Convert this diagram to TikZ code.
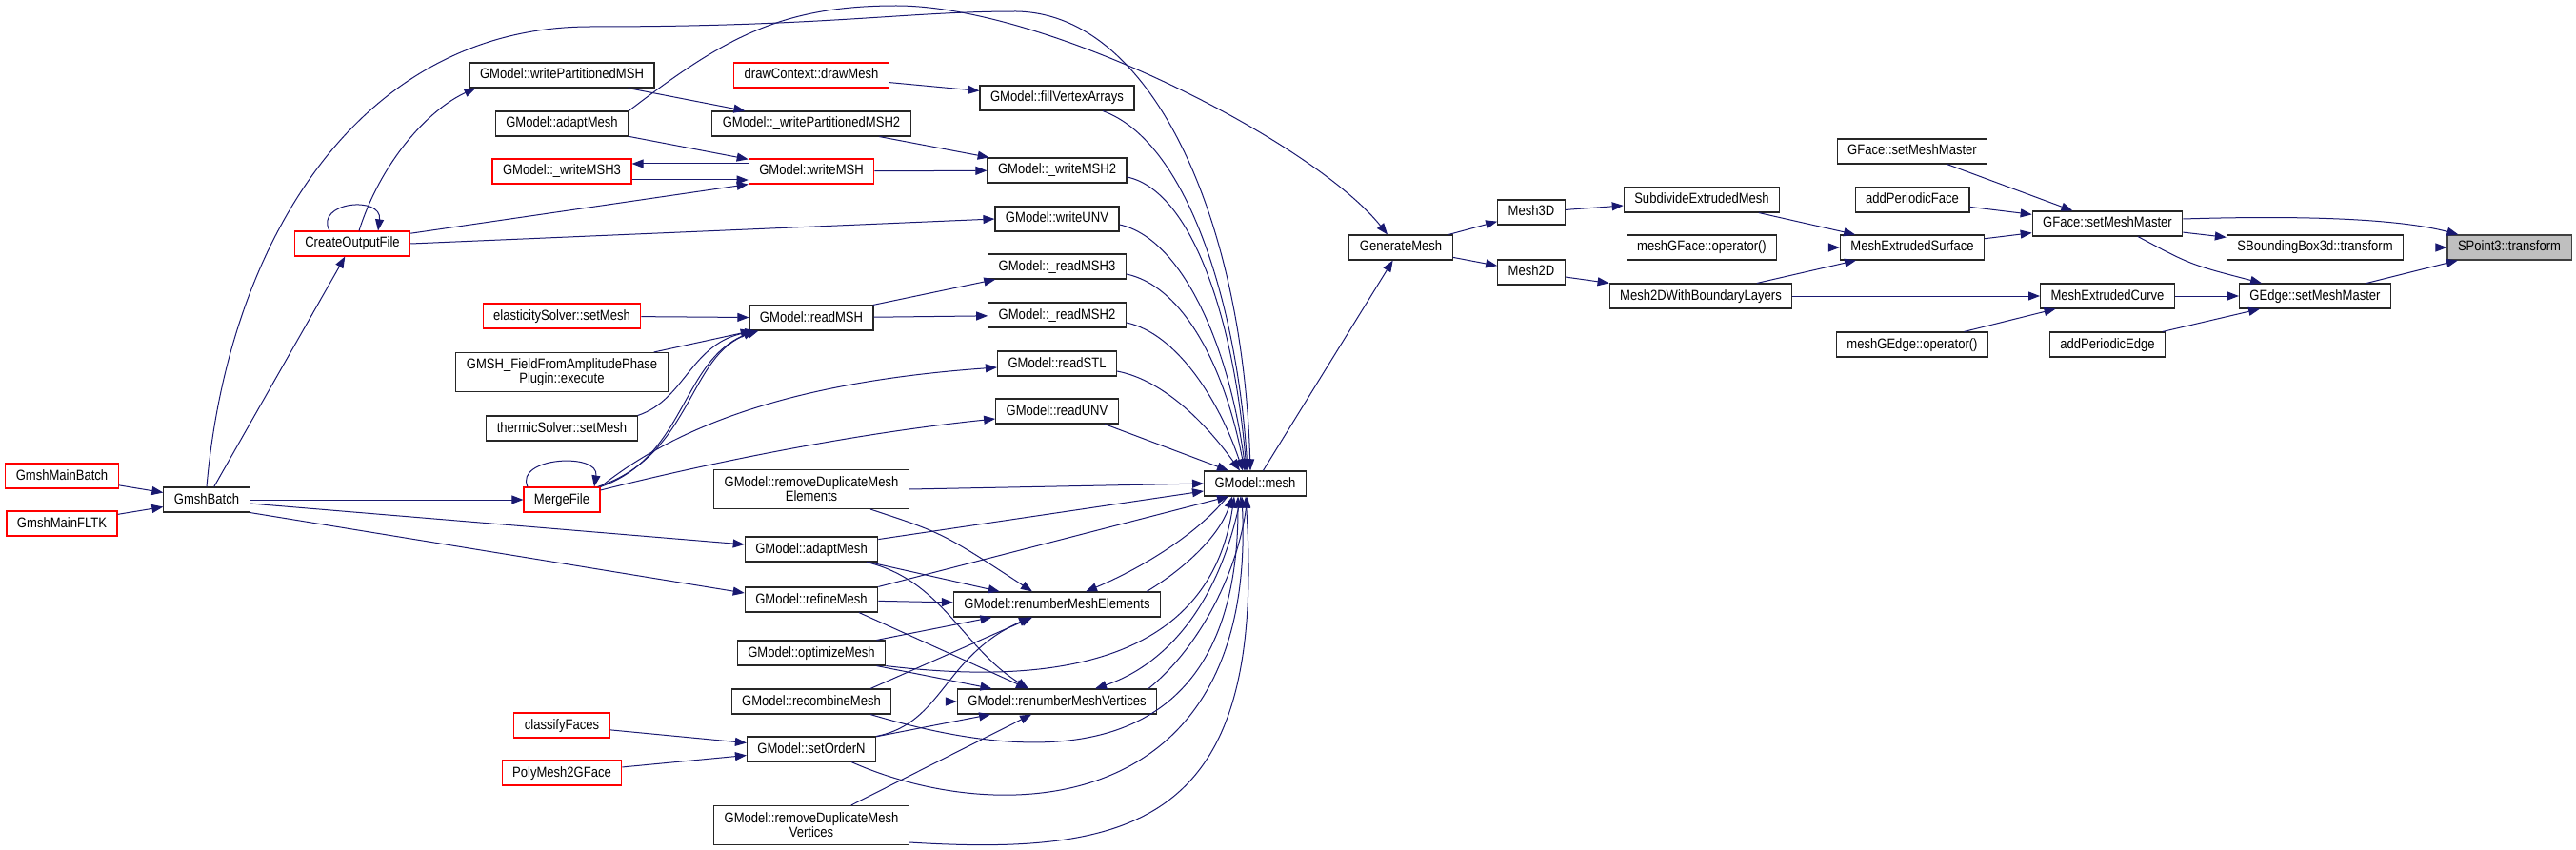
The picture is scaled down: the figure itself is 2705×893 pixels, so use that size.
\documentclass[tikz,border=0pt]{standalone}
\usepackage{fontspec}
\setmainfont{Liberation Sans}[FakeStretch=0.87]
\usepackage{tikz}
\usetikzlibrary{arrows.meta}
\definecolor{edgeBlue}{HTML}{191970}
\definecolor{boxRed}{HTML}{FF0000}
\definecolor{rootGray}{HTML}{BFBFBF}

\begin{document}
\begin{tikzpicture}[x=1pt, y=-1pt, font=\fontsize{15}{15}\selectfont,
  fn/.style={draw=black!85, line width=1.1pt, fill=white, inner xsep=11pt, inner ysep=0pt,
             minimum height=26pt, text height=10.8pt, text depth=2.8pt},
  fnred/.style={fn, draw=boxRed},
  fnroot/.style={fn, draw=black!75, fill=rootGray},
  fntwo/.style={fn, align=center, text height={}, text depth={}, minimum height=41pt},
  call/.style={draw=edgeBlue, line width=1pt, -{Triangle[length=12pt,width=9pt]}}]
\useasboundingbox (0,0) rectangle (2705,893);
% ---------- entry points ----------
\node[fnred] (gmb) at (65,500) {GmshMainBatch};
\node[fnred] (gmf) at (65,550) {GmshMainFLTK};
\node[fn] (gbatch) at (217,525) {GmshBatch};
\node[fnred] (cof) at (370,256) {CreateOutputFile};
% ---------- column 3 ----------
\node[fn] (wpmsh) at (590,79) {GModel::writePartitionedMSH};
\node[fn] (adapt1) at (590,130) {GModel::adaptMesh};
\node[fnred] (wmsh3) at (590,180) {GModel::\_writeMSH3};
\node[fnred] (elast) at (590,332) {elasticitySolver::setMesh};
\node[fntwo] (field) at (590,391) {GMSH\_FieldFromAmplitudePhase\\Plugin::execute};
\node[fn] (thermic) at (590,450) {thermicSolver::setMesh};
\node[fnred] (merge) at (590,525) {MergeFile};
\node[fnred] (classify) at (590,762) {classifyFaces};
\node[fnred] (poly) at (590,812) {PolyMesh2GFace};
% ---------- column 4 ----------
\node[fnred] (dcdm) at (852,79) {drawContext::drawMesh};
\node[fn] (wpmsh2) at (852,130) {GModel::\_writePartitionedMSH2};
\node[fnred] (wmsh) at (852,180) {GModel::writeMSH};
\node[fn] (rmsh) at (852,334) {GModel::readMSH};
\node[fntwo] (rdme) at (852,514) {GModel::removeDuplicateMesh\\Elements};
\node[fn] (adapt2) at (852,577) {GModel::adaptMesh};
\node[fn] (refine) at (852,630) {GModel::refineMesh};
\node[fn] (optim) at (852,686) {GModel::optimizeMesh};
\node[fn] (recomb) at (852,737) {GModel::recombineMesh};
\node[fn] (order) at (852,787) {GModel::setOrderN};
\node[fntwo] (rdmv) at (852,867) {GModel::removeDuplicateMesh\\Vertices};
% ---------- column 5 ----------
\node[fn] (fva) at (1110,103) {GModel::fillVertexArrays};
\node[fn] (wmsh2) at (1110,179) {GModel::\_writeMSH2};
\node[fn] (wunv) at (1110,230) {GModel::writeUNV};
\node[fn] (rmsh3) at (1110,280) {GModel::\_readMSH3};
\node[fn] (rmsh2) at (1110,331) {GModel::\_readMSH2};
\node[fn] (rstl) at (1110,382) {GModel::readSTL};
\node[fn] (runv) at (1110,432) {GModel::readUNV};
\node[fn] (rnme) at (1110,635) {GModel::renumberMeshElements};
\node[fn] (rnmv) at (1110,737) {GModel::renumberMeshVertices};
% ---------- right part ----------
\node[fn] (mesh) at (1318,508) {GModel::mesh};
\node[fn] (gen) at (1471,260) {GenerateMesh};
\node[fn] (m3d) at (1608,223) {Mesh3D};
\node[fn] (m2d) at (1608,286) {Mesh2D};
\node[fn] (sub) at (1787,210) {SubdivideExtrudedMesh};
\node[fn] (mgf) at (1787,260) {meshGFace::operator()};
\node[fn] (m2dbl) at (1786,311) {Mesh2DWithBoundaryLayers};
\node[fn] (gfsmm1) at (2008,159) {GFace::setMeshMaster};
\node[fn] (apf) at (2008,210) {addPeriodicFace};
\node[fn] (mes) at (2008,260) {MeshExtrudedSurface};
\node[fn] (mge) at (2008,362) {meshGEdge::operator()};
\node[fn] (gfsmm) at (2213,235) {GFace::setMeshMaster};
\node[fn] (mec) at (2213,311) {MeshExtrudedCurve};
\node[fn] (ape) at (2213,362) {addPeriodicEdge};
\node[fn] (sbb) at (2431,260) {SBoundingBox3d::transform};
\node[fn] (gesmm) at (2431,311) {GEdge::setMeshMaster};
\node[fnroot] (sp3) at (2635,260) {SPoint3::transform};
% ---------- calls, right part ----------
\draw[call] (sbb) -- (sp3);
\draw[call] ([yshift=5pt]gfsmm.east) .. controls (2420,226) and (2520,230) .. ([xshift=12pt]sp3.north west);
\draw[call] (gesmm) -- (sp3);
\draw[call] (gfsmm) -- (sbb);
\draw[call] ([xshift=32pt]gfsmm.south) .. controls (2300,278) .. ([xshift=-56pt]gesmm.north);
\draw[call] (mec) -- (gesmm);
\draw[call] (ape) -- (gesmm);
\draw[call] (gfsmm1) -- (gfsmm);
\draw[call] (apf) -- (gfsmm);
\draw[call] (mes) -- (gfsmm);
\draw[call] (m2dbl) -- (mec);
\draw[call] (mge) -- (mec);
\draw[call] (sub) -- (mes);
\draw[call] (mgf) -- (mes);
\draw[call] (m2dbl) -- (mes);
\draw[call] (m3d) -- (sub);
\draw[call] (m2d) -- (m2dbl);
\draw[call] (gen) -- (m3d);
\draw[call] (gen) -- (m2d);
\draw[call] (mesh) -- (gen);
% ---------- calls, left part ----------
\draw[call] (gmb) -- (gbatch);
\draw[call] (gmf) -- (gbatch);
\draw[call] (gbatch) -- (cof);
\draw[call] (gbatch) -- (merge);
\draw[call] ([yshift=-4pt]gbatch.east) -- ([yshift=5pt]adapt2.west);
\draw[call] (gbatch.south east) -- ([yshift=7pt]refine.west);
\draw[call] (gbatch.north) .. controls (240,250) and (380,28) .. (620,28)
  .. controls (870,28) and (950,12) .. (1067,12)
  .. controls (1210,14) and (1305,230) .. ([xshift=-5pt]mesh.north);  % over the top
\draw[call] ([xshift=-24pt]cof.north) .. controls (330,212) and (402,205) .. ([xshift=27pt]cof.north);
\draw[call] ([xshift=7pt]cof.north) .. controls (400,170) and (450,115) .. ([xshift=7pt]wpmsh.south west);
\draw[call] (cof.10) -- (wmsh.south west);
\draw[call] (cof.east) -- (wunv.west);
\draw[call] (wpmsh) -- (wpmsh2);
\draw[call] (adapt1.north east) .. controls (760,40) and (820,6) .. (941,6)
  .. controls (1100,6) and (1380,150) .. ([xshift=-14pt]gen.north);
\draw[call] (adapt1) -- (wmsh);
\draw[call] ([yshift=8pt]wmsh.west) -- ([yshift=8pt]wmsh3.east);
\draw[call] ([yshift=-9pt]wmsh3.east) -- ([yshift=-9pt]wmsh.west);
\draw[call] (wpmsh2) -- (wmsh2);
\draw[call] (wmsh) -- (wmsh2);
\draw[call] (dcdm) -- (fva);
% ---------- readers ----------
\draw[call] (rmsh) -- (rmsh3);
\draw[call] (rmsh) -- (rmsh2);
\draw[call] (elast) -- (rmsh);
\draw[call] (field) -- (rmsh);
\draw[call] (thermic.north east) .. controls (720,420) and (725,360) .. ([xshift=8pt]rmsh.south west);
\draw[call] (merge.north east) .. controls (720,480) and (715,380) .. ([xshift=6pt]rmsh.south west);
\draw[call] ([xshift=-3pt]merge.north east) .. controls (728,478) and (722,372) .. ([xshift=10pt]rmsh.south west);
\draw[call] ([xshift=-36pt]merge.north) .. controls (540,480) and (630,475) .. ([xshift=34pt]merge.north);
\draw[call] (merge.north east) .. controls (720,440) and (850,400) .. ([yshift=-4pt]rstl.west);
\draw[call] ([yshift=10pt]merge.east) .. controls (750,485) and (900,455) .. ([yshift=-8pt]runv.west);
% ---------- into GModel::mesh from above ----------
\draw[call] ([xshift=48pt]fva.south) .. controls (1250,150) and (1300,330) .. ([xshift=-8pt]mesh.north);
\draw[call] ([yshift=-7pt]wmsh2.east) .. controls (1250,200) and (1295,330) .. ([xshift=-9pt]mesh.north);
\draw[call] ([yshift=-6pt]wunv.east) .. controls (1240,250) and (1290,360) .. ([xshift=-10pt]mesh.north);
\draw[call] ([yshift=-8pt]rmsh3.east) .. controls (1240,300) and (1285,380) .. ([xshift=-11pt]mesh.north);
\draw[call] ([yshift=-8pt]rmsh2.east) .. controls (1235,350) and (1280,420) .. ([xshift=-13pt]mesh.north);
\draw[call] ([yshift=-8pt]rstl.east) .. controls (1225,400) and (1270,450) .. ([xshift=-16pt]mesh.north);
\draw[call] ([xshift=50pt]runv.south) -- ([xshift=-28pt]mesh.north);
% ---------- renumbering ----------
\draw[call] (rdme.east) -- (mesh.west);
\draw[call] ([xshift=62pt]rdme.south) .. controls (990,560) .. ([xshift=-26pt]rnme.north);
\draw[call] (adapt2) -- (mesh);
\draw[call] (adapt2) -- (rnme);
\draw[call] ([xshift=58pt]adapt2.south) .. controls (990,610) and (1010,680) .. ([xshift=-30pt]rnmv.north);
\draw[call] (refine.north east) -- ([xshift=-28pt]mesh.south);
\draw[call] (refine) -- (rnme);
\draw[call] ([xshift=50pt]refine.south) -- ([xshift=-31pt]rnmv.north);
\draw[call] (optim) -- (rnme);
\draw[call] (optim) -- (rnmv);
\draw[call] (optim.south east) .. controls (1100,720) and (1270,700) .. ([xshift=-22pt]mesh.south);
\draw[call] ([xshift=62pt]recomb.north) -- ([xshift=-26pt]rnme.south);
\draw[call] (recomb) -- (rnmv);
\draw[call] ([xshift=62pt]recomb.south) .. controls (1080,800) and (1300,820) .. ([xshift=-18pt]mesh.south);
\draw[call] (order) -- (rnmv);
\draw[call] (order.north east) .. controls (990,760) and (990,690) .. ([xshift=-28pt]rnme.south);
\draw[call] ([xshift=42pt]order.south) .. controls (1050,870) and (1320,860) .. ([xshift=-14pt]mesh.south);
\draw[call] (classify) -- (order);
\draw[call] (poly) -- (order);
\draw[call] (rdmv) -- (rnmv);
\draw[call] ([yshift=-18pt]rdmv.east) .. controls (1200,900) and (1330,860) .. ([xshift=-10pt]mesh.south);
\draw[call] ([xshift=-29pt]mesh.south) .. controls (1250,570) and (1180,605) .. ([xshift=30pt]rnme.north);
\draw[call] ([xshift=94pt]rnme.north) .. controls (1240,600) and (1280,565) .. ([xshift=-24pt]mesh.south);
\draw[call] ([xshift=-15pt]mesh.south) .. controls (1280,640) and (1220,700) .. ([xshift=40pt]rnmv.north);
\draw[call] ([xshift=96pt]rnmv.north) .. controls (1260,680) and (1300,600) .. ([xshift=-8pt]mesh.south);
\end{tikzpicture}
\end{document}
